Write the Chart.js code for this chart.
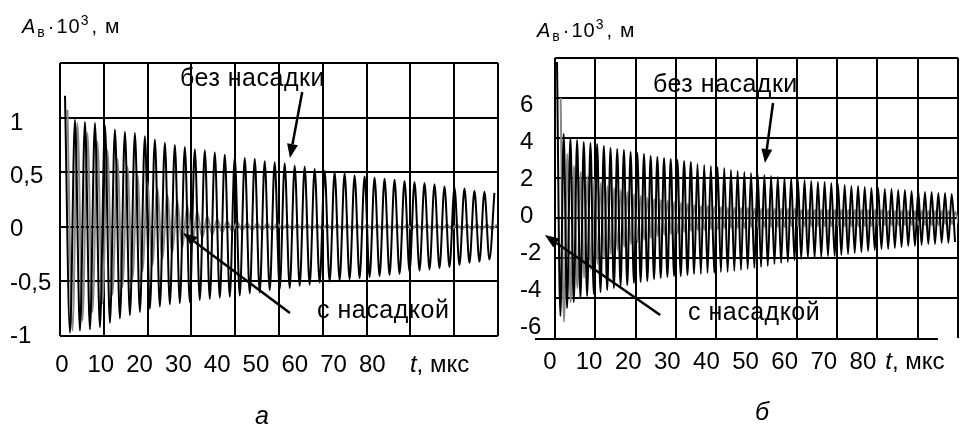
<!DOCTYPE html>
<html>
<head>
<meta charset="utf-8">
<script src="https://cdn.jsdelivr.net/npm/chart.js@4.4.1/dist/chart.umd.min.js"></script>
<style>
  html, body { margin: 0; padding: 0; background: #fff; }
  #wrap { position: relative; width: 961px; height: 432px; overflow: hidden; }
  canvas { position: absolute; top: 0; }
  #cA { left: 0; }
  #cB { left: 505px; }
</style>
</head>
<body>
<div id="wrap">
  <canvas id="cA" width="505" height="432"></canvas>
  <canvas id="cB" width="456" height="432"></canvas>
</div>
<script>
// --- data ---
// time tick labels (мкс) and grid columns
const tLabels = [0, 10, 20, 30, 40, 50, 60, 70, 80];
const gridX = [0, 10, 20, 30, 40, 50, 60, 70, 80, 90, 100];

// panel а : A_в·10^3, м
const aYGrid = [-1, -0.5, 0, 0.5, 1, 1.5];
const aYLabels = [-1, -0.5, 0, 0.5, 1];
// sampled at the half-period (peaks and troughs), step aDt grid units
const aDt = 1.14;
const aT0NoTip = 1.14;
const aT0Tip = 1.7;
const aNoTip = [ // без насадки
  1.20,-0.97, 0.98,-0.95, 0.96,-0.94, 0.95,-0.92, 0.93,-0.88,
  0.89,-0.84, 0.87,-0.81, 0.86,-0.78, 0.83,-0.75, 0.80,-0.73,
  0.77,-0.71, 0.75,-0.70, 0.73,-0.69, 0.71,-0.67, 0.70,-0.66,
  0.68,-0.65, 0.66,-0.64, 0.64,-0.63, 0.63,-0.61, 0.62,-0.60,
  0.60,-0.58, 0.59,-0.57, 0.58,-0.56, 0.56,-0.54, 0.55,-0.53,
  0.53,-0.51, 0.51,-0.50, 0.50,-0.49, 0.49,-0.48, 0.47,-0.47,
  0.46,-0.46, 0.45,-0.45, 0.44,-0.44, 0.43,-0.43, 0.42,-0.41,
  0.41,-0.40, 0.40,-0.39, 0.39,-0.38, 0.37,-0.37, 0.36,-0.35,
  0.35,-0.33, 0.33,-0.32, 0.32,-0.30, 0.31
];
const aTip = [ // с насадкой
  1.07,-0.95, 0.95,-0.86, 0.86,-0.78, 0.78,-0.70, 0.70,-0.62,
  0.62,-0.55, 0.55,-0.48, 0.48,-0.41, 0.41,-0.35, 0.35,-0.29,
  0.29,-0.24, 0.24,-0.19, 0.19,-0.14, 0.14,-0.10, 0.10,-0.07,
  0.07,-0.05, 0.05,-0.04, 0.04,-0.03, 0.03,-0.03, 0.03,-0.03,
  0.03,-0.03, 0.03,-0.02, 0.02,-0.02, 0.02,-0.02, 0.02,-0.02,
  0.02,-0.02, 0.02,-0.02, 0.02,-0.02, 0.02,-0.02, 0.02,-0.02,
  0.02,-0.02, 0.02,-0.02, 0.02,-0.02, 0.02,-0.02, 0.02,-0.02,
  0.02,-0.02, 0.02,-0.02, 0.02,-0.02, 0.02,-0.02, 0.02,-0.02,
  0.02,-0.02, 0.02,-0.02, 0.02,-0.02, 0.02
];

// panel б
const bYGrid = [-6, -4, -2, 0, 2, 4, 6, 8];
const bYLabels = [-6, -4, -2, 0, 2, 4, 6];
const bDt = 0.83;
const bT0NoTip = 0.5;
const bT0Tip = 1.4;
const bNoTip = [ // без насадки
  7.8,-4.9, 4.2,-4.5, 4.0,-4.2, 3.9,-4.0, 3.8,-3.9,
  3.75,-3.8, 3.7,-3.7, 3.6,-3.6, 3.5,-3.5, 3.45,-3.4,
  3.4,-3.35, 3.3,-3.25, 3.25,-3.2, 3.2,-3.15, 3.1,-3.05,
  3.05,-3.0, 3.0,-2.95, 2.95,-2.9, 2.9,-2.9, 2.85,-2.85,
  2.8,-2.8, 2.7,-2.8, 2.65,-2.75, 2.6,-2.75, 2.55,-2.7,
  2.5,-2.7, 2.4,-2.65, 2.35,-2.6, 2.3,-2.55, 2.25,-2.5,
  2.2,-2.45, 2.15,-2.4, 2.1,-2.3, 2.05,-2.25, 2.0,-2.2,
  2.0,-2.1, 1.95,-2.05, 1.9,-2.0, 1.85,-2.0, 1.8,-1.95,
  1.8,-1.9, 1.75,-1.9, 1.7,-1.85, 1.65,-1.8, 1.6,-1.75,
  1.6,-1.7, 1.55,-1.65, 1.5,-1.6, 1.5,-1.55, 1.45,-1.55,
  1.45,-1.5, 1.4,-1.45, 1.4,-1.4, 1.35,-1.4, 1.35,-1.35,
  1.3,-1.3, 1.3,-1.3, 1.25,-1.25, 1.25,-1.25, 1.2,-1.2
];
const bTip = [ // с насадкой
  6.0,-5.2, 3.2,-4.2, 2.6,-3.5, 2.3,-3.0, 2.1,-2.6,
  1.9,-2.3, 1.75,-2.0, 1.6,-1.8, 1.5,-1.6, 1.4,-1.45,
  1.3,-1.3, 1.2,-1.2, 1.1,-1.1, 1.0,-1.0, 0.95,-0.9,
  0.9,-0.85, 0.85,-0.8, 0.8,-0.75, 0.75,-0.7, 0.7,-0.65,
  0.65,-0.6, 0.6,-0.6, 0.6,-0.55, 0.55,-0.55, 0.55,-0.5,
  0.5,-0.5, 0.5,-0.5, 0.5,-0.5, 0.5,-0.45, 0.45,-0.45,
  0.45,-0.45, 0.45,-0.45, 0.45,-0.45, 0.45,-0.45, 0.45,-0.4,
  0.45,-0.4, 0.4,-0.4, 0.4,-0.4, 0.4,-0.4, 0.4,-0.4,
  0.4,-0.4, 0.4,-0.4, 0.4,-0.4, 0.4,-0.4, 0.4,-0.4,
  0.4,-0.4, 0.4,-0.4, 0.4,-0.35, 0.4,-0.35, 0.35,-0.35,
  0.35,-0.35, 0.35,-0.35, 0.35,-0.35, 0.35,-0.35, 0.35,-0.35,
  0.35,-0.35, 0.35,-0.35, 0.35,-0.3, 0.35,-0.3, 0.3,-0.3
];

const FONT = '"Liberation Sans", Arial, sans-serif';

// sampled signal -> points (uniform sampling step)
function pts(vals, t0, dt) {
  return vals.map((v, i) => ({ x: t0 + i * dt, y: v }));
}

function arrow(ctx, x1, y1, x2, y2) {
  const ang = Math.atan2(y2 - y1, x2 - x1), L = 14, W = 5.5;
  const bx = x2 - L * Math.cos(ang), by = y2 - L * Math.sin(ang);
  ctx.lineWidth = 2.5;
  ctx.beginPath(); ctx.moveTo(x1, y1); ctx.lineTo(bx, by); ctx.stroke();
  ctx.beginPath(); ctx.moveTo(x2, y2);
  ctx.lineTo(bx + W * Math.sin(ang), by - W * Math.cos(ang));
  ctx.lineTo(bx - W * Math.sin(ang), by + W * Math.cos(ang));
  ctx.closePath(); ctx.fill();
}

// titles, notes, arrows
function deco(cfg) {
  return {
    id: 'deco',
    afterDraw(chart) {
      const ctx = chart.ctx, xs = chart.scales.x, ys = chart.scales.y, xl = chart.scales.xl;
      const area = chart.chartArea;
      ctx.save();
      ctx.fillStyle = '#000';
      ctx.strokeStyle = '#000';
      ctx.textBaseline = 'alphabetic';
      ctx.textAlign = 'left';

      // axis title  A_в·10^3, м
      let tx = cfg.titleX;
      const ty = cfg.titleY;
      const parts = [
        ['A', 0, 'italic 20px', 1], ['в', 4, '14px', 2], ['·', 0, '20px', 1],
        ['10', 0, '20px', 0], ['3', -8, '14px', 2], [',', 0, '20px', 7], ['м', 0, '21px', 0]
      ];
      ctx.letterSpacing = '1px';
      parts.forEach(p => {
        ctx.font = p[2] + ' ' + FONT;
        ctx.fillText(p[0], tx, ty + p[1]);
        tx += ctx.measureText(p[0]).width + p[3];
      });
      ctx.letterSpacing = '0px';

      // t, мкс
      const uy = area.bottom + cfg.tickPad + 14.4;
      ctx.textBaseline = 'middle';
      let ux = xl.getPixelForValue(cfg.tUnitAt);
      ctx.font = 'italic 24px ' + FONT;
      ctx.fillText('t', ux, uy);
      ux += ctx.measureText('t').width;
      ctx.font = '24px ' + FONT;
      ctx.fillText(', мкс', ux, uy);

      // panel letter
      ctx.textBaseline = 'alphabetic';
      ctx.font = 'italic 25px ' + FONT;
      ctx.textAlign = 'center';
      ctx.fillText(cfg.letter, cfg.letterX, cfg.letterY);

      // notes
      ctx.textAlign = 'left';
      ctx.font = '25px ' + FONT;
      ctx.letterSpacing = '0.5px';
      cfg.notes.forEach(n => {
        ctx.fillText(n.text, xs.getPixelForValue(n.x), ys.getPixelForValue(n.y));
      });
      ctx.letterSpacing = '0px';
      cfg.arrows.forEach(a => {
        arrow(ctx, xs.getPixelForValue(a[0]), ys.getPixelForValue(a[1]),
                   xs.getPixelForValue(a[2]), ys.getPixelForValue(a[3]));
      });

      // extra axis line (panel б)
      if (cfg.baseLine) {
        ctx.lineWidth = 2;
        ctx.beginPath();
        ctx.moveTo(cfg.baseLine[0], area.bottom + 1);
        ctx.lineTo(cfg.baseLine[1], area.bottom + 1);
        ctx.stroke();
      }
      ctx.restore();
    }
  };
}

function panel(id, cfg) {
  const line = { borderWidth: 2, pointRadius: 0, cubicInterpolationMode: 'monotone', borderJoinStyle: 'round' };
  return new Chart(document.getElementById(id), {
    type: 'line',
    data: {
      datasets: [
        Object.assign({ label: 'без насадки', data: pts(cfg.noTip, cfg.t0NoTip, cfg.dt), borderColor: '#000' }, line),
        Object.assign({ label: 'с насадкой', data: pts(cfg.tip, cfg.t0Tip, cfg.dt), borderColor: '#888' }, line)
      ]
    },
    options: {
      responsive: false,
      animation: false,
      devicePixelRatio: 1,
      parsing: false,
      layout: { padding: cfg.pad },
      plugins: { legend: { display: false }, tooltip: { enabled: false } },
      scales: {
        x: {
          type: 'linear', min: 0, max: 100, position: 'bottom', weight: 0,
          afterBuildTicks: s => { s.ticks = gridX.map(v => ({ value: v })); },
          ticks: { display: false },
          grid: { color: '#000', lineWidth: 2, drawTicks: false },
          border: { display: false },
          afterFit: s => { s.height = 0; }
        },
        xl: {
          type: 'linear', min: cfg.lMin, max: cfg.lMax, position: 'bottom', weight: 1,
          afterBuildTicks: s => { s.ticks = tLabels.map(v => ({ value: v })); },
          grid: { display: false, drawTicks: false },
          border: { display: false },
          ticks: { color: '#000', font: { family: FONT, size: 24 }, padding: cfg.tickPad,
                   maxRotation: 0, autoSkip: false },
          afterFit: s => { s.height = cfg.xlH; }
        },
        y: {
          type: 'linear', min: cfg.yMin, max: cfg.yMax, position: 'left', weight: 0,
          afterBuildTicks: s => { s.ticks = cfg.yGrid.map(v => ({ value: v })); },
          ticks: { display: false },
          grid: {
            color: c => (cfg.hideBottom && c.tick && c.tick.value === cfg.yMin) ? 'rgba(0,0,0,0)' : '#000',
            lineWidth: 2, drawTicks: false
          },
          border: { display: false },
          afterFit: s => { s.width = 0; }
        },
        yl: {
          type: 'linear', min: cfg.ylMin, max: cfg.ylMax, position: 'left', weight: 1,
          afterBuildTicks: s => { s.ticks = cfg.yLabels.map(v => ({ value: v })); },
          ticks: {
            color: '#000', font: { family: FONT, size: 24 }, crossAlign: 'far', padding: 0,
            callback: v => String(v).replace('.', ',')
          },
          grid: { display: false, drawTicks: false },
          border: { display: false },
          afterFit: s => { s.width = cfg.yW; }
        }
      }
    },
    plugins: [deco(cfg)]
  });
}

panel('cA', {
  noTip: aNoTip, tip: aTip, t0NoTip: aT0NoTip, t0Tip: aT0Tip, dt: aDt,
  pad: { left: 10, top: 63, right: 7, bottom: 0 }, yW: 50, xlH: 96, tickPad: 15,
  yMin: -1, yMax: 1.5, yGrid: aYGrid, yLabels: aYLabels, ylMin: -1.0, ylMax: 1.57,
  lMin: -0.52, lMax: 112.4, tUnitAt: 89.7,
  titleX: 22, titleY: 33, letter: 'а', letterX: 262, letterY: 424,
  notes: [{ text: 'без насадки', x: 27.4, y: 1.29 }, { text: 'с насадкой', x: 58.7, y: -0.835 }],
  arrows: [[55.3, 1.234, 52.5, 0.63], [52.5, -0.79, 28.1, -0.057]]
});

panel('cB', {
  noTip: bNoTip, tip: bTip, t0NoTip: bT0NoTip, t0Tip: bT0Tip, dt: bDt,
  pad: { left: 15, top: 58, right: 3, bottom: 0 }, yW: 35, xlH: 94, tickPad: 10,
  yMin: -6, yMax: 8, yGrid: bYGrid, yLabels: bYLabels, ylMin: -6.59, ylMax: 8.54,
  hideBottom: true, baseLine: [30, 433],
  lMin: 1.28, lMax: 104.3, tUnitAt: 85.7,
  titleX: 32, titleY: 37, letter: 'б', letterX: 257, letterY: 420,
  notes: [{ text: 'без насадки', x: 24.3, y: 6.3 }, { text: 'с насадкой', x: 33.0, y: -5.1 }],
  arrows: [[54.1, 5.75, 52.1, 2.75], [26.1, -4.85, -2.5, -0.85]]
});
</script>
</body>
</html>
